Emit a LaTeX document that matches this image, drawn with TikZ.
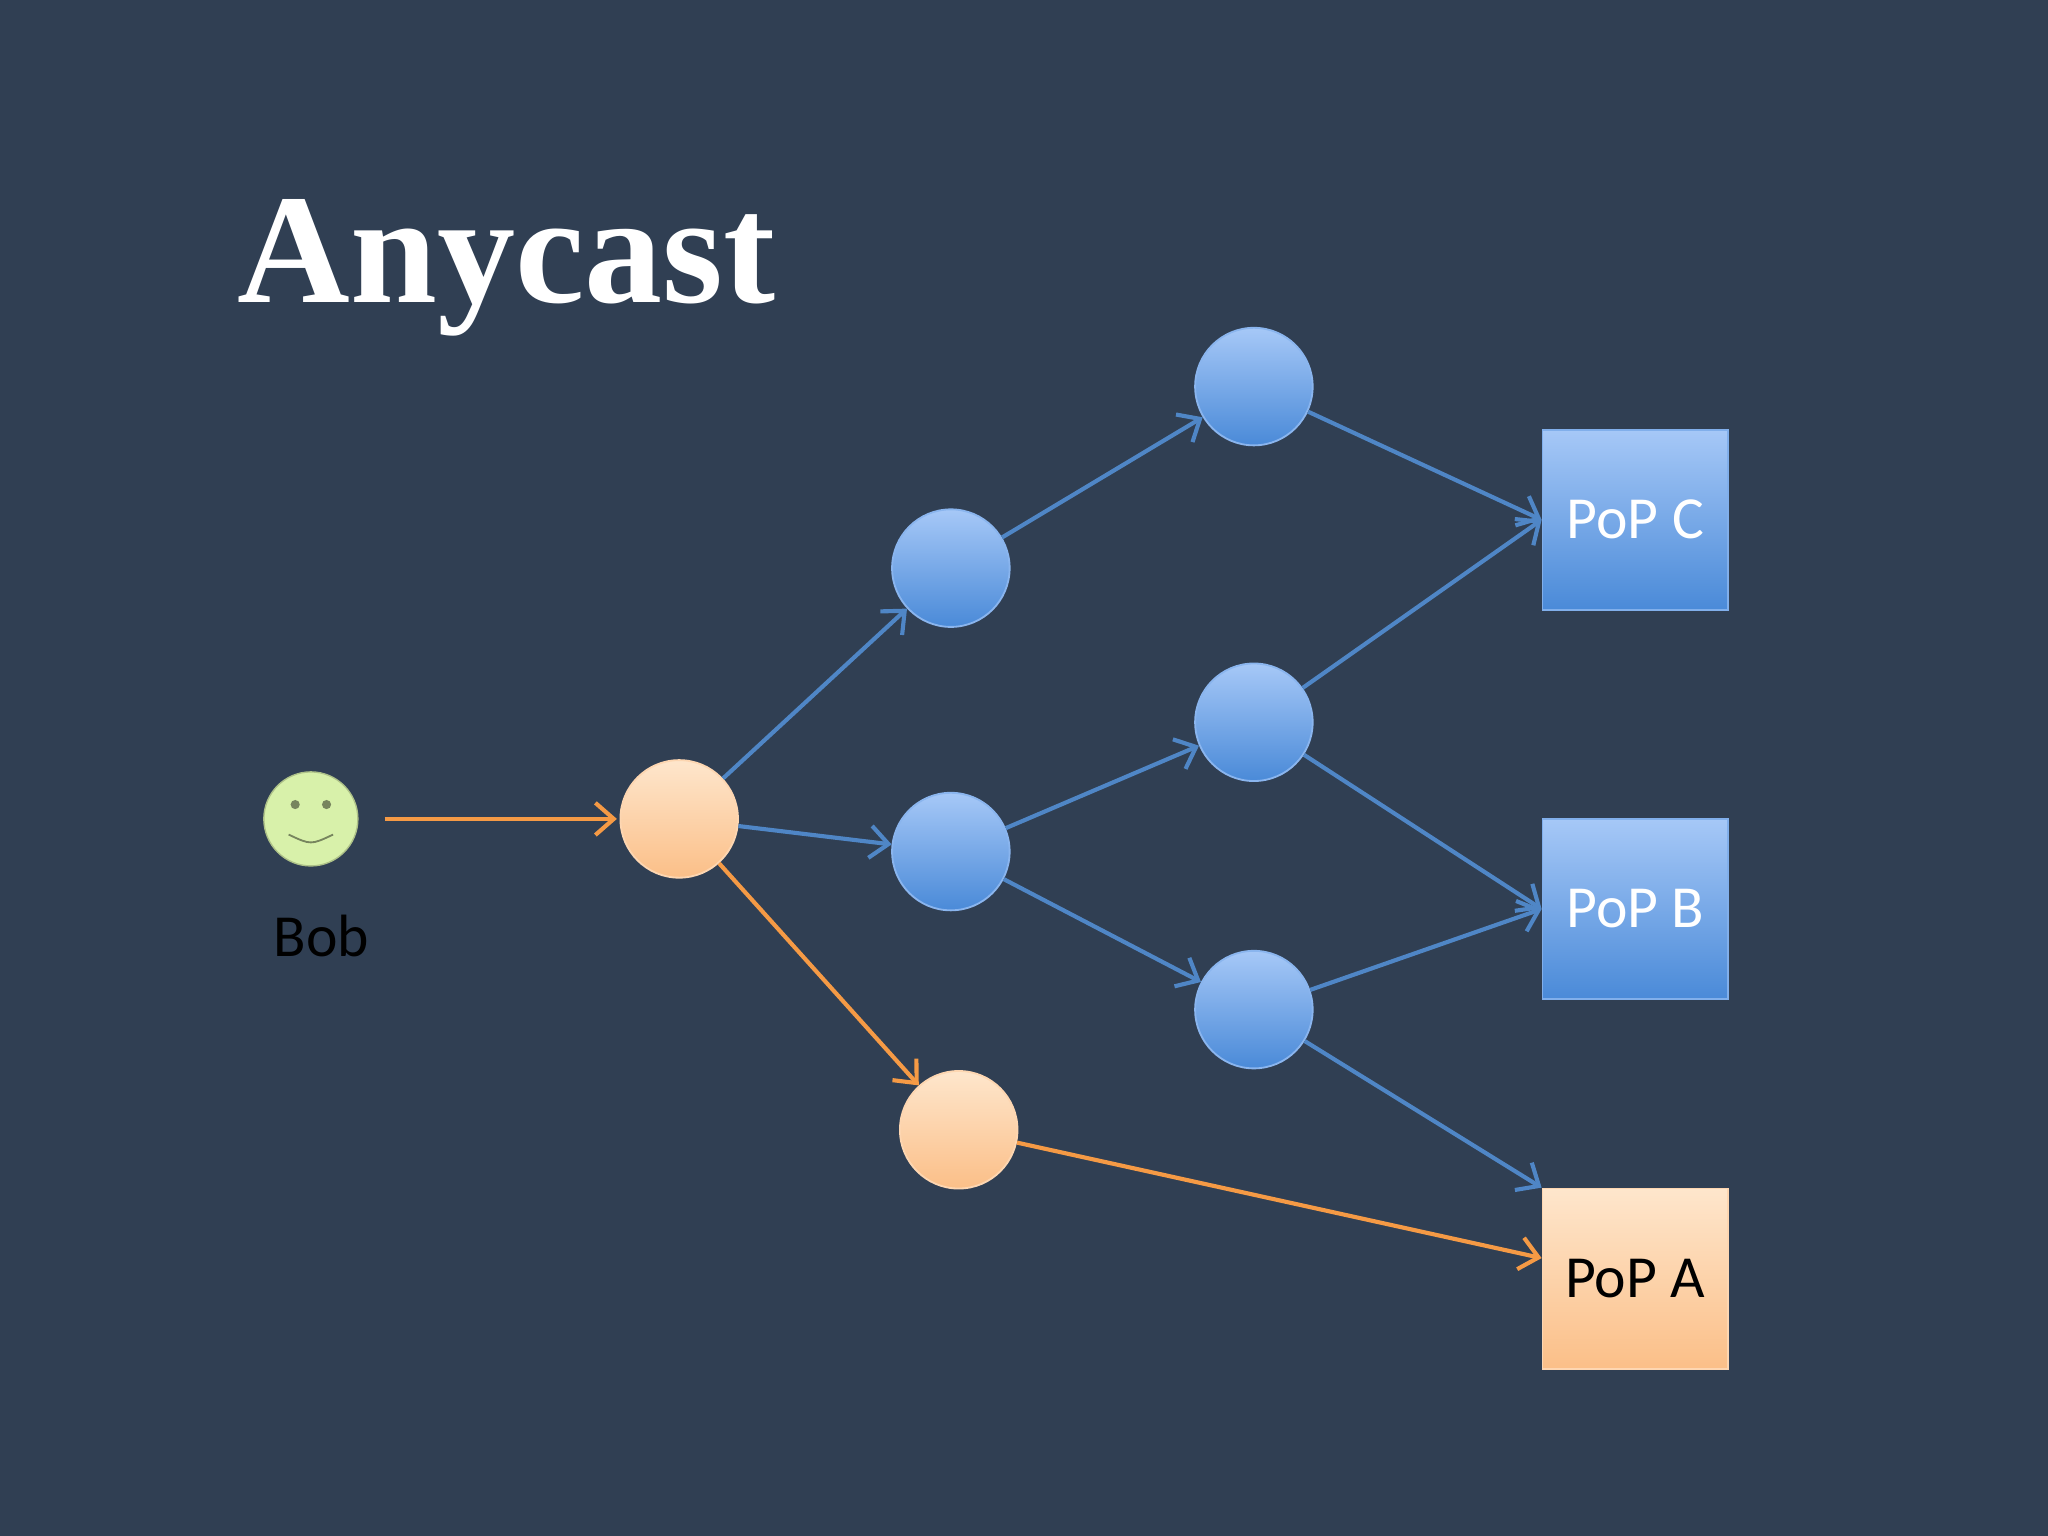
\documentclass[tikz,border=0pt]{standalone}
\usepackage{fontspec}
\setmainfont{Carlito}
\newfontfamily\titlefont{Liberation Serif}
\usepackage{xcolor}
\usetikzlibrary{positioning,calc,arrows.meta,shapes}
\definecolor{bgdark}{HTML}{303F53}
\definecolor{bluetop}{HTML}{A6C8F7}
\definecolor{bluebot}{HTML}{4A8AD8}
\definecolor{orgtop}{HTML}{FEE6CC}
\definecolor{orgbot}{HTML}{FBBF88}
\definecolor{blueline}{HTML}{4F86C6}
\definecolor{orgline}{HTML}{F59A45}
\definecolor{smile}{HTML}{D8F1AA}
\tikzset{
  router/.style={circle,minimum size=0.9cm,inner sep=0pt,top color=bluetop,bottom color=bluebot,draw=bluetop!70!bluebot,line width=0.4pt},
  hop/.style={circle,minimum size=0.9cm,inner sep=0pt,top color=orgtop,bottom color=orgbot,draw=orgtop!60!orgbot,line width=0.4pt},
  pop/.style={rectangle,minimum width=1.42cm,minimum height=1.38cm,top color=bluetop,bottom color=bluebot,draw=bluetop!60!bluebot,text=white,font=\fontsize{13}{13}\selectfont},
  popa/.style={pop,top color=orgtop,bottom color=orgbot,draw=orgtop!60!orgbot,text=black},
  bl/.style={->,draw=blueline,line width=0.9pt,>={Straight Barb[length=4pt,width=7pt]}},
  or/.style={->,draw=orgline,line width=0.9pt,>={Straight Barb[length=4pt,width=7pt]}}
}
\begin{document}
\begin{tikzpicture}
  \fill[bgdark] (0,0) rectangle (15.68,11.76);
  \useasboundingbox (0,0) rectangle (15.68,11.76);

  \path (3.88,9.71) node [text=white,font=\titlefont\bfseries\fontsize{34}{34}\selectfont](title){Anycast};

  % Bob
  \path (2.38,5.49) node [circle,minimum size=0.72cm,inner sep=0pt,fill=smile,draw=smile!80!black,line width=0.3pt](bob){};
  \fill[smile!55!black] ($(bob.center)+(-0.12,0.11)$) circle (0.035) ($(bob.center)+(0.12,0.11)$) circle (0.035);
  \draw[smile!55!black,line width=0.4pt] ($(bob.center)+(-0.17,-0.12)$) .. controls ($(bob.center)+(0,-0.2)$) .. ($(bob.center)+(0.17,-0.12)$);
  \path (2.46,4.59) node [font=\fontsize{13}{13}\selectfont](boblbl){Bob};

  \path (5.20,5.49) node [hop](o1){};
  \path (7.34,3.11) node [hop](o2){};
  \path (7.28,7.41) node [router](b1){};
  \path (7.28,5.24) node [router](b2){};
  \path (9.60,8.80) node [router](c1){};
  \path (9.60,6.23) node [router](c2){};
  \path (9.60,4.03) node [router](c3){};
  \path (12.52,7.78) node [pop](popc){PoP C};
  \path (12.52,4.80) node [pop](popb){PoP B};
  \path (12.52,1.97) node [popa](popa){PoP A};

  \draw[or,shorten <=0.2cm,shorten >=0.02cm] (bob) -- (o1);
  \draw[or] (o1) -- (o2);
  \draw[or] (o2) -- (popa);

  \draw[bl] (o1) -- (b1);
  \draw[bl] (o1) -- (b2);
  \draw[bl] (b1) -- (c1);
  \draw[bl] (b2) -- (c2);
  \draw[bl] (b2) -- (c3);
  \draw[bl] (c1) -- (popc.west);
  \draw[bl] (c2) -- (popc.west);
  \draw[bl] (c2) -- (popb.west);
  \draw[bl] (c3) -- (popb.west);
  \draw[bl] (c3) -- (popa.north west);

\end{tikzpicture}
\end{document}
